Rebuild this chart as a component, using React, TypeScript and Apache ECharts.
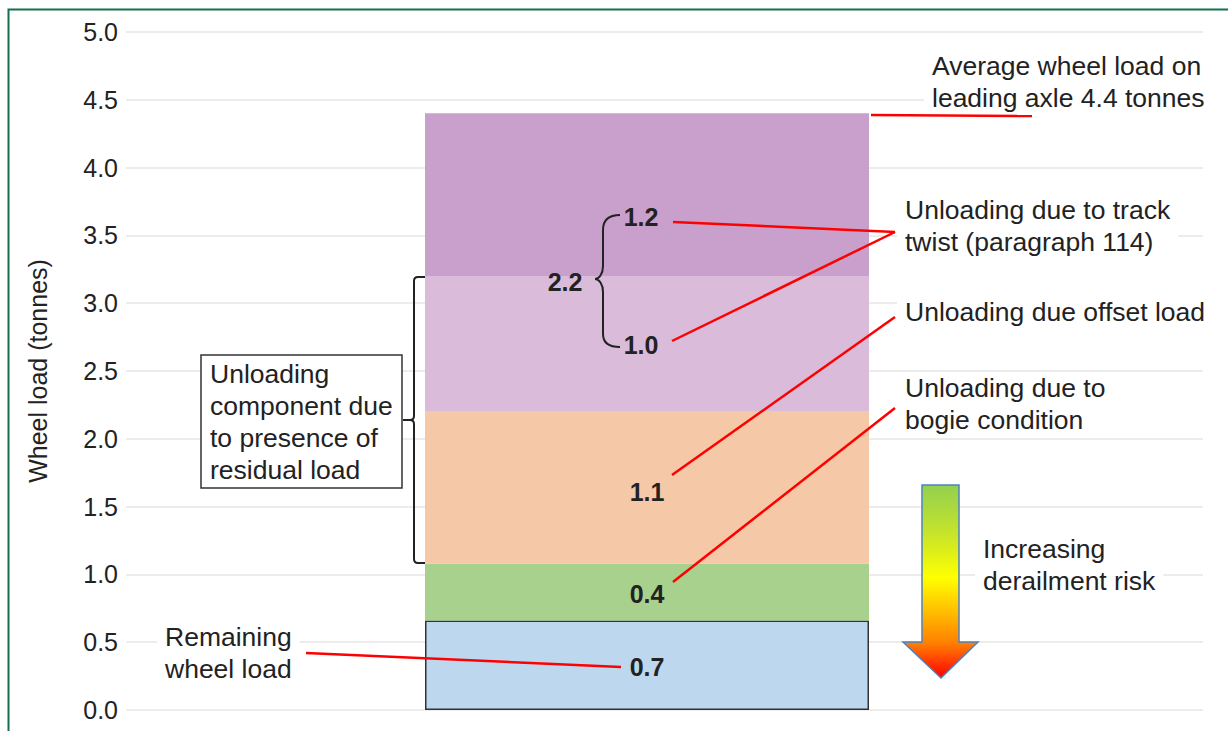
import React, { useEffect, useRef } from "react";
import * as echarts from "echarts";

// ---- data ----
const barCategory = ["Leading axle"];
const segmentNames = [
  "Remaining wheel load",
  "Unloading due to bogie condition",
  "Unloading due offset load",
  "Unloading due to track twist (lower)",
  "Unloading due to track twist (upper)",
];
const segmentValues = [0.66, 0.42, 1.12, 1.0, 1.2];
const segmentLabels = ["0.7", "0.4", "1.1", "1.0", "1.2"];
const segmentColors = ["#bdd7ee", "#a9d18e", "#f5c8a8", "#dabbda", "#c99fcb"];
const yMin = 0;
const yMax = 5;
const yInterval = 0.5;
const twistTotalLabel = "2.2";
const yAxisTitle = "Wheel load (tonnes)";

// ---- annotation texts ----
const txtAverage = "Average wheel load on\nleading axle 4.4 tonnes";
const txtTwist = "Unloading due to track\ntwist (paragraph 114)";
const txtOffset = "Unloading due offset load";
const txtBogie = "Unloading due to\nbogie condition";
const txtRemaining = "Remaining\nwheel load";
const txtRisk = "Increasing\nderailment risk";
const txtResidual = "Unloading\ncomponent due\nto presence of\nresidual load";

const FONT = "'Liberation Sans', Arial, Helvetica, sans-serif";
const ANN_SIZE = 26.5;

echarts.graphic.registerShape(
  "residualBracket",
  echarts.graphic.extendPath(
    "M425,277 L418,277 Q414,277 414,281 L414,416 Q414,420 410,420 L403,420 M410,420 Q414,420 414,424 L414,559 Q414,563 418,563 L425,563",
    {}
  )
);
echarts.graphic.registerShape(
  "twistBrace",
  echarts.graphic.extendPath(
    "M620,215 C608,215 603,220 603,230 L603,266 C603,274 599,279 595,279 C599,279 603,284 603,292 L603,334 C603,342 608,347 620,347",
    {}
  )
);

function annText(text: string, x: number, top: number) {
  return {
    type: "text",
    x,
    y: top,
    z: 50,
    style: {
      text,
      fill: "#222",
      font: `${ANN_SIZE}px ${FONT}`,
      lineHeight: 32,
      verticalAlign: "top",
      align: "left",
      backgroundColor: "#fff",
      padding: [0, 8, 0, 8],
    },
  };
}

function redLine(x1: number, y1: number, x2: number, y2: number) {
  return {
    type: "line",
    z: 60,
    shape: { x1, y1, x2, y2 },
    style: { stroke: "#ff0000", lineWidth: 2.5 },
  };
}

export default function App() {
  const ref = useRef<HTMLDivElement>(null);
  useEffect(() => {
    if (!ref.current) return;
    const chart = echarts.init(ref.current, undefined, { renderer: "svg" });
    const labelOffsets = [
      [0, 2],
      [0, 2],
      [0, 4],
      [-6, 1],
      [-6, 22],
    ];
    const series = segmentValues.map((v, i) => ({
      name: segmentNames[i],
      type: "bar",
      stack: "load",
      xAxisIndex: 1,
      yAxisIndex: 1,
      barWidth: "100%",
      silent: true,
      data: [v],
      itemStyle: {
        color: segmentColors[i],
        borderColor: i === 0 ? "#333" : "transparent",
        borderWidth: i === 0 ? 1.5 : 0,
      },
      label: {
        show: true,
        position: "inside",
        formatter: () => segmentLabels[i],
        offset: labelOffsets[i],
        fontFamily: FONT,
        fontSize: 25,
        fontWeight: "bold",
        color: "#222",
      },
      z: 2,
    }));

    chart.setOption({
      animation: false,
      backgroundColor: "#fff",
      grid: [
        { left: 126, right: 25, top: 32, bottom: 21 },
        { left: 425, right: 359, top: 32, bottom: 21 },
      ],
      xAxis: [
        { type: "value", gridIndex: 0, min: 0, max: 1, show: false },
        { type: "category", gridIndex: 1, data: barCategory, show: false },
      ],
      yAxis: [
        {
          type: "value",
          gridIndex: 0,
          min: yMin,
          max: yMax,
          interval: yInterval,
          name: yAxisTitle,
          nameLocation: "middle",
          nameGap: 76,
          nameTextStyle: { fontFamily: FONT, fontSize: 25, color: "#222" },
          axisLine: { show: false },
          axisTick: { show: false },
          axisLabel: {
            fontFamily: FONT,
            fontSize: 25,
            color: "#222",
            margin: 8,
            formatter: (v: number) => v.toFixed(1),
          },
          splitLine: { lineStyle: { color: "#e6e6e6", width: 1.5 } },
        },
        {
          type: "value",
          gridIndex: 1,
          min: yMin,
          max: yMax,
          interval: yInterval,
          show: false,
          splitLine: { show: false },
        },
      ],
      series,
      graphic: [
        // frame
        {
          type: "polyline",
          z: 100,
          shape: { points: [[8.5, 731], [8.5, 9.5], [1228, 9.5]] },
          style: { stroke: "#17704a", lineWidth: 2, fill: "none" },
        },
        // residual load box
        {
          type: "rect",
          z: 40,
          shape: { x: 201, y: 355, width: 201, height: 133 },
          style: { fill: "#fff", stroke: "#333", lineWidth: 1.5 },
        },
        {
          type: "text",
          x: 210,
          y: 358,
          z: 41,
          style: {
            text: txtResidual,
            fill: "#222",
            font: `${ANN_SIZE}px ${FONT}`,
            lineHeight: 32,
            verticalAlign: "top",
            align: "left",
          },
        },
        {
          type: "residualBracket",
          z: 45,
          style: { fill: "none", stroke: "#222", lineWidth: 2 },
        },
        {
          type: "twistBrace",
          z: 45,
          style: { fill: "none", stroke: "#222", lineWidth: 2 },
        },
        {
          type: "text",
          x: 565,
          y: 282,
          z: 46,
          style: {
            text: twistTotalLabel,
            fill: "#222",
            font: `bold 25px ${FONT}`,
            align: "center",
            verticalAlign: "middle",
          },
        },
        // annotation texts
        annText(txtAverage, 924, 50),
        annText(txtTwist, 897, 194),
        annText(txtOffset, 897, 296),
        annText(txtBogie, 897, 372),
        annText(txtRemaining, 157, 621),
        annText(txtRisk, 975, 533),
        // red leader lines
        redLine(871, 115, 1032, 116),
        redLine(673, 222, 895, 232),
        redLine(672, 341, 895, 232),
        redLine(672, 475, 895, 317),
        redLine(673, 582, 895, 408),
        redLine(306, 653, 621, 667),
        // risk arrow
        {
          type: "polygon",
          z: 50,
          shape: {
            points: [
              [922, 485],
              [959, 485],
              [959, 642],
              [978, 642],
              [941, 678],
              [903, 642],
              [922, 642],
            ],
          },
          style: {
            fill: new echarts.graphic.LinearGradient(0, 0, 0, 1, [
              { offset: 0, color: "#92d050" },
              { offset: 0.25, color: "#c6e42a" },
              { offset: 0.48, color: "#ffff00" },
              { offset: 0.65, color: "#ffc000" },
              { offset: 0.82, color: "#ff7f00" },
              { offset: 1, color: "#ff0000" },
            ]),
            stroke: "#4f81bd",
            lineWidth: 1.5,
          },
        },
      ],
    });
    return () => chart.dispose();
  }, []);
  return (
    <div
      ref={ref}
      style={{ position: "fixed", left: 0, top: 0, width: 1228, height: 731, background: "#fff" }}
    />
  );
}
